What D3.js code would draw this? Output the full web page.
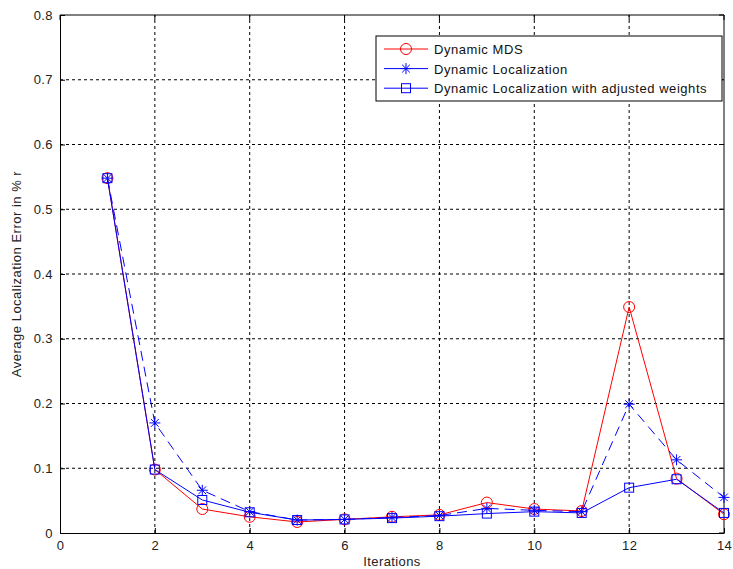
<!DOCTYPE html>
<html><head><meta charset="utf-8">
<script src="https://cdnjs.cloudflare.com/ajax/libs/d3/7.8.5/d3.min.js"></script>
<style>body{margin:0;background:#fff}svg{display:block}text{font-family:Arial,"Liberation Sans",sans-serif}</style>
</head><body><svg id="c" width="733" height="569"></svg>
<script>
const iterations = [1,2,3,4,5,6,7,8,9,10,11,12,13,14];
const dynamicMDS = [0.548,0.098,0.037,0.025,0.017,0.021,0.025,0.028,0.047,0.037,0.034,0.349,0.084,0.029];
const dynamicLoc = [0.548,0.170,0.066,0.033,0.020,0.021,0.024,0.027,0.038,0.035,0.033,0.199,0.113,0.055];
const adjustedW = [0.548,0.098,0.051,0.032,0.020,0.021,0.023,0.026,0.030,0.033,0.031,0.070,0.083,0.031];
const xTicks = [0,2,4,6,8,10,12,14];
const yTicks = [0,0.1,0.2,0.3,0.4,0.5,0.6,0.7,0.8];
const seriesNames = ["Dynamic MDS","Dynamic Localization","Dynamic Localization with adjusted weights"];

const svg = d3.select("#c");
const L=60,R=724,T=15,B=533;
const x = d3.scaleLinear().domain([0,14]).range([L,R]);
const y = d3.scaleLinear().domain([0,0.8]).range([B,T]);

// grid
const g = svg.append("g");
g.selectAll(".vg").data(xTicks.slice(1,-1)).enter().append("line")
 .attr("x1",d=>x(d)).attr("x2",d=>x(d)).attr("y1",B).attr("y2",T)
 .attr("stroke","#000").attr("stroke-width",1).attr("stroke-dasharray","3,3");
g.selectAll(".hg").data(yTicks.slice(1,-1)).enter().append("line")
 .attr("y1",d=>y(d)).attr("y2",d=>y(d)).attr("x1",L).attr("x2",R)
 .attr("stroke","#000").attr("stroke-width",1).attr("stroke-dasharray","3,3");

// axes
const xa = svg.append("g").attr("transform",`translate(0,${B})`)
 .call(d3.axisBottom(x).tickValues(xTicks).tickFormat(d3.format("d")).tickSizeInner(-5).tickSizeOuter(0).tickPadding(8));
const ya = svg.append("g").attr("transform",`translate(${L},0)`)
 .call(d3.axisLeft(y).tickValues(yTicks).tickFormat(d=>d===0?"0":d3.format(".1f")(d)).tickSizeInner(-5).tickSizeOuter(0).tickPadding(7));
[xa,ya].forEach(a=>{a.selectAll("text").attr("font-size",13).attr("fill","#222").attr("letter-spacing","0.4px").attr("font-family","Arial, 'Liberation Sans', sans-serif");
 a.select(".domain").attr("stroke","#000");a.selectAll(".tick line").attr("stroke","#000");});
// top & right box with ticks
svg.append("line").attr("x1",L).attr("x2",R).attr("y1",T).attr("y2",T).attr("stroke","#000");
svg.append("line").attr("x1",R).attr("x2",R).attr("y1",T).attr("y2",B).attr("stroke","#000");
svg.selectAll(".tt").data(xTicks).enter().append("line").attr("x1",d=>x(d)).attr("x2",d=>x(d)).attr("y1",T).attr("y2",T+5).attr("stroke","#000");
svg.selectAll(".rt").data(yTicks).enter().append("line").attr("y1",d=>y(d)).attr("y2",d=>y(d)).attr("x1",R).attr("x2",R-5).attr("stroke","#000");

// lines
const line = d3.line().x((d,i)=>x(iterations[i])).y(d=>y(d));
function drawSeries(data,color,dash,marker){
  svg.append("path").datum(data).attr("d",line).attr("fill","none").attr("stroke",color)
   .attr("stroke-width",1).attr("stroke-dasharray",dash);
  const m = svg.append("g");
  data.forEach((v,i)=>drawMarker(m,x(iterations[i]),y(v),color,marker));
}
function drawMarker(m,cx,cy,color,marker){
  if(marker==="circle"){
    m.append("circle").attr("cx",cx).attr("cy",cy).attr("r",5.5).attr("fill","none").attr("stroke",color);
  } else if(marker==="square"){
    m.append("rect").attr("x",cx-4.5).attr("y",cy-4.5).attr("width",9).attr("height",9).attr("fill","none").attr("stroke",color);
  } else {
    const r=5.5;
    m.append("line").attr("x1",cx-r).attr("x2",cx+r).attr("y1",cy).attr("y2",cy).attr("stroke",color);
    m.append("line").attr("x1",cx).attr("x2",cx).attr("y1",cy-r).attr("y2",cy+r).attr("stroke",color);
    const q=r*0.7;
    m.append("line").attr("x1",cx-q).attr("x2",cx+q).attr("y1",cy-q).attr("y2",cy+q).attr("stroke",color);
    m.append("line").attr("x1",cx-q).attr("x2",cx+q).attr("y1",cy+q).attr("y2",cy-q).attr("stroke",color);
  }
}
drawSeries(dynamicMDS,"#ff0000",null,"circle");
drawSeries(dynamicLoc,"#0000ff","10,6","star");
drawSeries(adjustedW,"#0000ff",null,"square");

// labels
svg.append("text").attr("x",(L+R)/2).attr("y",566).attr("text-anchor","middle").attr("font-size",13).attr("letter-spacing","0.4px").attr("fill","#222").text("Iterations");
svg.append("text").attr("transform",`translate(21,${(T+B)/2}) rotate(-90)`).attr("text-anchor","middle").attr("font-size",13).attr("letter-spacing","0.5px").attr("fill","#222").text("Average Localization Error in % r");

// legend
const lg = svg.append("g");
lg.append("rect").attr("x",376).attr("y",36).attr("width",346).attr("height",65).attr("fill","#fff").attr("stroke","#000");
const colors=["#ff0000","#0000ff","#0000ff"], markers=["circle","star","square"];
seriesNames.forEach((n,i)=>{
  const ly=49+i*19.6;
  lg.append("line").attr("x1",384).attr("x2",428).attr("y1",ly).attr("y2",ly).attr("stroke",colors[i]);
  drawMarker(lg,406,ly,colors[i],markers[i]);
  lg.append("text").attr("x",434).attr("y",ly+5).attr("font-size",13).attr("letter-spacing","0.55px").attr("fill","#111").text(n);
});
</script></body></html>
